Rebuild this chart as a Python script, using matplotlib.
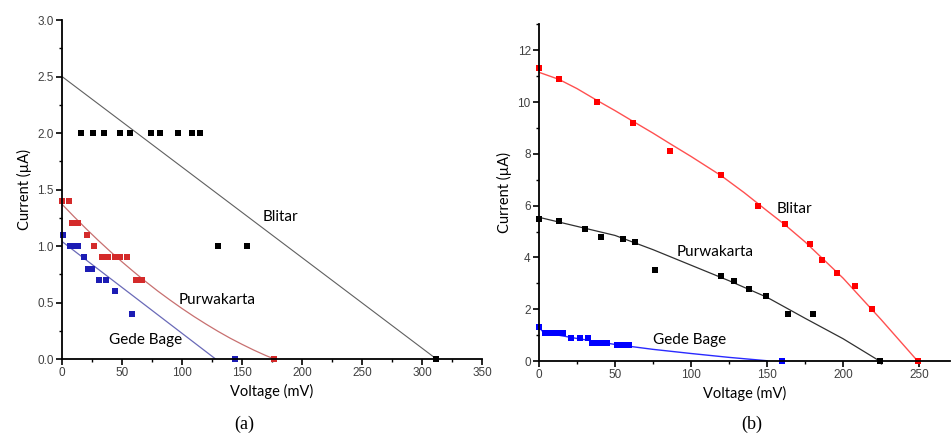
import matplotlib.pyplot as plt
from matplotlib.ticker import MultipleLocator

# ---- panel (a) data ----
a_blitar_v = [16, 26, 35, 48, 57, 74, 82, 97, 108, 115, 130, 154, 312]
a_blitar_i = [2.0, 2.0, 2.0, 2.0, 2.0, 2.0, 2.0, 2.0, 2.0, 2.0, 1.0, 1.0, 0.0]
a_purwa_v = [0, 6, 8, 13, 21, 27, 33, 38, 44, 48, 54, 62, 64, 67, 177]
a_purwa_i = [1.4, 1.4, 1.2, 1.2, 1.1, 1.0, 0.9, 0.9, 0.9, 0.9, 0.9, 0.7, 0.7, 0.7, 0.0]
a_gede_v = [1, 7, 10, 13, 18, 22, 25, 31, 37, 44, 58, 144]
a_gede_i = [1.1, 1.0, 1.0, 1.0, 0.9, 0.8, 0.8, 0.7, 0.7, 0.6, 0.4, 0.0]

# fit lines (a)
a_blitar_fit_v = [0, 312]
a_blitar_fit_i = [2.5, 0.0]
a_purwa_fit_v = [0, 10, 20, 30, 40, 50, 60, 70, 80, 90, 100, 110, 120, 130,
                 140, 150, 160, 170, 177]
a_purwa_fit_i = [1.37, 1.26, 1.154, 1.052, 0.954, 0.86, 0.77, 0.683, 0.6, 0.522,
                 0.447, 0.376, 0.309, 0.245, 0.185, 0.13, 0.078, 0.03, 0.0]
a_gede_fit_v = [0, 128]
a_gede_fit_i = [1.04, 0.0]

# ---- panel (b) data ----
b_blitar_v = [0, 13, 38, 62, 86, 120, 144, 162, 178, 186, 196, 208, 219, 249]
b_blitar_i = [11.3, 10.9, 10.0, 9.2, 8.1, 7.2, 6.0, 5.3, 4.5, 3.9, 3.4, 2.9, 2.0, 0.0]
b_purwa_v = [0, 13, 30, 41, 55, 63, 76, 120, 128, 138, 149, 164, 180, 224]
b_purwa_i = [5.5, 5.4, 5.1, 4.8, 4.7, 4.6, 3.5, 3.3, 3.1, 2.8, 2.5, 1.8, 1.8, 0.0]
b_gede_v = [0, 4, 8, 12, 16, 21, 27, 32, 35, 38, 42, 45, 51, 55, 59, 160]
b_gede_i = [1.3, 1.1, 1.1, 1.1, 1.1, 0.9, 0.9, 0.9, 0.7, 0.7, 0.7, 0.7, 0.6, 0.6, 0.6, 0.0]

# fit curves (b)
b_blitar_fit_v = [0, 13, 25, 38, 50, 62, 75, 86, 100, 120, 135, 150, 162, 175,
                  200, 225, 249]
b_blitar_fit_i = [11.15, 10.88, 10.52, 10.07, 9.67, 9.25, 8.8, 8.4, 7.9, 7.15, 6.5,
                  5.8, 5.25, 4.6, 3.2, 1.6, 0.0]
b_purwa_fit_v = [0, 25, 50, 75, 100, 125, 150, 175, 200, 224]
b_purwa_fit_i = [5.55, 5.2, 4.85, 4.3, 3.7, 3.1, 2.46, 1.65, 0.86, 0.0]
b_gede_fit_v = [0, 3, 25, 50, 75, 100, 125, 150]
b_gede_fit_i = [1.3, 1.1, 0.87, 0.64, 0.45, 0.29, 0.14, 0.01]

label_font = 'Lato'
tick_color = '#404040'

fig = plt.figure(figsize=(9.52, 4.36), dpi=100)
ax1 = fig.add_axes([0.0651, 0.1766, 0.4412, 0.7775])
ax2 = fig.add_axes([0.5662, 0.172, 0.4312, 0.772])

for ax in (ax1, ax2):
    ax.spines['top'].set_visible(False)
    ax.spines['right'].set_visible(False)
    ax.spines['left'].set_linewidth(1.3)
    ax.spines['bottom'].set_linewidth(1.3)
    ax.tick_params(which='major', direction='out', length=4, width=1.2,
                   labelsize=8.5, labelcolor=tick_color, pad=2)
    ax.tick_params(which='minor', direction='out', length=2.5, width=1.0)
    ax.set_xlabel('Voltage (mV)', fontsize=10.5, family=label_font, labelpad=3)
    ax.set_ylabel('Current (µA)', fontsize=10.5, family=label_font, labelpad=4)
    ax.patch.set_visible(False)

# (a)
ax1.plot(a_blitar_fit_v, a_blitar_fit_i, color='#606060', lw=0.8)
ax1.plot(a_purwa_fit_v, a_purwa_fit_i, color='#c87070', lw=0.9)
ax1.plot(a_gede_fit_v, a_gede_fit_i, color='#6a6ab8', lw=0.9)
ax1.plot(a_blitar_v, a_blitar_i, 's', color='black', ms=4, mew=0, clip_on=False)
ax1.plot(a_purwa_v, a_purwa_i, 's', color='#d42a2a', ms=4, mew=0, clip_on=False)
ax1.plot(a_gede_v, a_gede_i, 's', color='#1c1cb4', ms=4, mew=0, clip_on=False)
ax1.set_xlim(0, 350)
ax1.set_ylim(0, 3.0)
ax1.xaxis.set_major_locator(MultipleLocator(50))
ax1.xaxis.set_minor_locator(MultipleLocator(25))
ax1.yaxis.set_major_locator(MultipleLocator(0.5))
ax1.yaxis.set_minor_locator(MultipleLocator(0.25))
ax1.yaxis.set_major_formatter(lambda v, p: f'{v:.1f}')
ax1.text(182, 1.26, 'Blitar', fontsize=11, family=label_font, ha='center', va='center')
ax1.text(129, 0.52, 'Purwakarta', fontsize=11, family=label_font, ha='center', va='center')
ax1.text(70, 0.17, 'Gede Bage', fontsize=11, family=label_font, ha='center', va='center')

# (b)
ax2.plot(b_blitar_fit_v, b_blitar_fit_i, color='#ff5050', lw=1.0)
ax2.plot(b_purwa_fit_v, b_purwa_fit_i, color='#303030', lw=0.9)
ax2.plot(b_gede_fit_v, b_gede_fit_i, color='#2a2aff', lw=1.0)
ax2.plot(b_blitar_v, b_blitar_i, 's', color='#ff0000', ms=5, mew=0, clip_on=False)
ax2.plot(b_purwa_v, b_purwa_i, 's', color='black', ms=5, mew=0, clip_on=False)
ax2.plot(b_gede_v, b_gede_i, 's', color='#0000ff', ms=5, mew=0, clip_on=False)
ax2.set_xlim(0, 270)
ax2.set_ylim(0, 13)
ax2.xaxis.set_major_locator(MultipleLocator(50))
ax2.xaxis.set_minor_locator(MultipleLocator(25))
ax2.yaxis.set_major_locator(MultipleLocator(2))
ax2.yaxis.set_minor_locator(MultipleLocator(1))
ax2.text(168, 5.87, 'Blitar', fontsize=11, family=label_font, ha='center', va='center')
ax2.text(115.6, 4.22, 'Purwakarta', fontsize=11, family=label_font, ha='center', va='center')
ax2.text(98.7, 0.81, 'Gede Bage', fontsize=11, family=label_font, ha='center', va='center')

# tick labels in an Arial-like face
for ax in (ax1, ax2):
    for lbl in ax.get_xticklabels() + ax.get_yticklabels():
        lbl.set_family('Liberation Sans')

fig.text(244 / 952, 1 - 424 / 436, '(a)', fontsize=13, family='Liberation Serif',
         ha='center', va='center')
fig.text(752 / 952, 1 - 424 / 436, '(b)', fontsize=13, family='Liberation Serif',
         ha='center', va='center')

fig.savefig('out.png', dpi=100)
